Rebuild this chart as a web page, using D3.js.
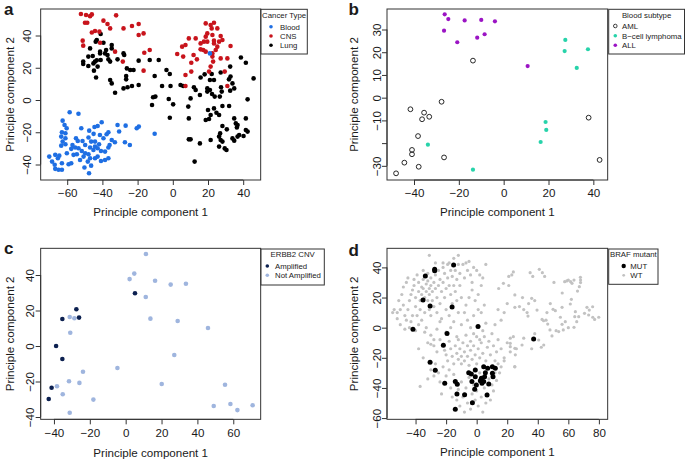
<!DOCTYPE html>
<html><head><meta charset="utf-8">
<script src="https://cdn.jsdelivr.net/npm/d3@7"></script>
<style>body{margin:0;background:#fff}svg{display:block}text{font-family:"Liberation Sans",Arial,Helvetica,sans-serif;fill:#1a1a1a}</style>
</head><body><svg id="c" width="685" height="460"></svg>
<script>
// ---------- Panel a: Cancer type ----------
const bloodA = [[-58.6,-7.6],[-53.6,-8.5],[-62.6,-12.8],[-61.5,-15.5],[-60.3,-17.5],[-52,-17.5],[-44.5,-16.7],[-42.7,-16.1],[-40.4,-13.8],[-31.4,-15.5],[-26.8,-15.9],[-20.5,-17.5],[-19.3,-16.5],[-63,-20],[-61,-20.6],[-63.4,-22.7],[-55,-23.7],[-54,-25.4],[-51.3,-25.4],[-47.9,-23.3],[-46.4,-25.8],[-44.2,-28.9],[-41.9,-27.4],[-39.4,-23.7],[-37.6,-21.2],[-36.6,-20],[-34.7,-24.8],[-32.9,-26.2],[-27.2,-26.2],[-24.4,-27.9],[-62.6,-25.8],[-61,-27.4],[-63.4,-28.3],[-57,-27.9],[-57.7,-30.3],[-55.5,-29.5],[-49.8,-27.9],[-47,-29.5],[-45.1,-31],[-42.7,-29.9],[-40.8,-31.6],[-38.5,-32],[-36.6,-29.5],[-51.7,-31.6],[-49.8,-33],[-47.9,-33.6],[-60.2,-33],[-56.4,-34],[-54.5,-33.6],[-70.2,-35.1],[-66.8,-34],[-65.3,-36.1],[-64.5,-34.5],[-68.6,-38.2],[-67.1,-40.2],[-63,-39.2],[-59.2,-39.8],[-57.7,-39.2],[-52.7,-37.2],[-50.7,-35.1],[-47,-36.1],[-44.2,-36.1],[-42.7,-35.1],[-40.8,-37.8],[-38.5,-37.2],[-36.6,-36.1],[-48.3,-38.2],[-46.4,-40.7],[-50.2,-41.9],[-47.6,-45.4],[-66.8,-42.7],[-64.9,-43.3],[-63,-43.3],[-61,-23.7],[-53.6,-29.9],[-44.2,-25.8],[-41.4,-21.7],[-35.9,-27.9],[-10.3,-20.9],[-30.5,-19.5],[-47.5,-19],[-45,-21],[21.1,28.9]];
const cnsA = [[-52.2,53.3],[-49.3,52.7],[-47,52],[-46,53.1],[-49.9,47.9],[-48.6,47.9],[-32.2,52.5],[-39.4,49.2],[-37.1,47.1],[-35.6,44.4],[-46,41.9],[-44.2,42.8],[-41.7,42.4],[-41.3,35.5],[-28,44.4],[-23.2,45.9],[-19.4,47.1],[-19.4,40.3],[-16.6,41.3],[-51.2,36.8],[-50.9,33.7],[-32.8,30],[-28.4,23.8],[-13.1,31],[-16.2,29.3],[-16.6,18.2],[18.7,47.5],[21.5,46.5],[23.4,47.9],[22.1,44.4],[25.3,44.4],[19.6,41.3],[22.5,40.3],[18.7,39.3],[9.1,38.2],[13,38.2],[5.3,33.1],[7.2,34.1],[15.8,35.1],[17.7,36.2],[19.6,36.2],[23.4,36.8],[26.3,36.2],[28.2,37.2],[27.2,39.7],[25.3,33.1],[32.8,33.5],[15.8,31.4],[17.3,31],[18.7,30],[11.8,27.9],[13.7,25.2],[10.5,23.1],[2.5,28.5],[5.9,26.9],[22.5,26.9],[22.9,23.8],[21.5,20.7],[20.6,17.6],[7.2,15.5],[10.5,17.6],[27.2,25.8],[31,25.8],[29.5,17.6],[7.2,8.7],[31,8.7],[23.4,35.1],[24.4,31],[22.5,28.9]];
const lungA = [[-41,40.9],[-43.2,37.2],[-43.8,36.2],[-39.4,35.5],[-34.7,34.1],[-34.7,32],[-37.9,31],[-41.3,30],[-47,32],[-50.9,23.8],[-50.9,22.3],[-48,21.1],[-48,26.9],[-45.5,27.3],[-44.2,23.8],[-43.2,24.6],[-41,24.8],[-41.3,28.9],[-38.5,28.9],[-37.1,27.9],[-36.6,25.2],[-35.6,23.8],[-31.4,25.2],[-28,28.9],[-27.6,27.9],[-26.1,19.6],[-24.2,18.6],[-22.3,18.6],[-26.5,14.9],[-26.5,12.8],[-28,7.2],[-25.7,7.9],[-23.2,8.7],[-19.4,9.3],[-32.8,4.5],[-35.6,12.4],[-34.7,10.3],[-43.6,14],[-44.8,18.2],[-42.7,20.7],[-45.1,22.7],[-19.4,24.4],[-13.1,24.8],[-8,24.8],[-10.3,14.9],[-3.6,18.6],[-1.7,16.1],[-6.1,8.7],[-1.3,8.7],[4.4,9.3],[5.9,8.7],[-11.2,1.7],[-9.9,2.1],[-11.8,-3.1],[-2.3,0.6],[0.2,-2.7],[-1.7,-11],[8.8,-4.1],[10.1,1],[9.1,-11.4],[12,7.9],[13,6.2],[15.4,3.1],[15.8,14],[18.1,15.9],[21.1,12.4],[23.4,12.4],[19.6,7.2],[21.1,6.2],[19.6,5.2],[22.3,3.7],[23.8,2.1],[26.7,2.1],[27.4,7.9],[27.8,5.2],[31.9,12.8],[32.8,14.5],[33.9,10.3],[32.6,5.8],[34.9,7.2],[32.6,20.7],[38.7,26.4],[41.5,23.1],[45.9,13.4],[42.5,0.4],[27.2,17.1],[22.1,16.1],[28.2,-3.7],[32,-3.7],[21.5,-9.3],[24.8,-7.9],[20.6,-11.8],[18.7,-12.4],[26.3,-9.3],[28.2,-16.1],[30.7,-18.2],[34.9,-11.4],[35.8,-14.5],[36.4,-17.1],[36.8,-15.5],[41.5,-11.4],[41.5,-18.6],[42.5,-19.6],[40.2,-22.3],[37.7,-21.7],[36.8,-22.7],[33.9,-23.8],[34.9,-25.2],[26.9,-20.7],[26.3,-22.7],[27.2,-24.8],[28.2,-25.8],[29.5,-30],[30.5,-31],[26.3,-28.9],[21.5,-24.8],[15.4,-26.9],[10.1,-24.4],[9.1,-24.4],[12.4,-38.2],[20,-6.2],[23.4,-5.2]];
const ticksAx = [-60,-40,-20,0,20,40];
const ticksAy = [-40,-20,0,20,40];

// ---------- Panel b: Blood subtype ----------
const amlB = [[-13.7,16.3],[-27.7,-1.8],[-41.6,-5.1],[-35.5,-6.6],[-36.4,-9.5],[-33.2,-8.4],[-38.2,-16.9],[-40.9,-23],[-40.9,-24.9],[-44.3,-28.6],[-37.9,-30.4],[-48,-33.3],[-26.6,-26.3],[37.9,-8.8],[42.8,-27.4]];
const bcellB = [[27.5,25.4],[27.2,20.5],[37.6,21.3],[32.6,13.1],[18.7,-10.7],[19,-14.2],[16.5,-19.5],[-33.8,-20.7],[-13.7,-31.7]];
const allB = [[-26.3,36.7],[-24.7,34.6],[-17.4,34],[-10,34.2],[-3.9,33.6],[-26.6,29.5],[-8.5,27.9],[-11.8,26.4],[-20.7,24.4],[10.7,13.9]];
const ticksBx = [-40,-20,0,20,40];
const ticksBy = [-30,-20,-10,0,10,20,30];
const labelsBy = [-30,-10,0,10,20,30];

// ---------- Panel c: ERBB2 CNV ----------
const ampC = [[5.2,29.7],[-27.5,20.7],[-26,16],[-35.3,15.2],[-38.8,0],[-35.3,-7.3],[-41.3,-23.5],[-42.9,-29.9]];
const notAmpC = [[11.3,51.8],[2.2,37.7],[4.8,40.8],[16.4,36.8],[25.1,34.6],[33.6,35.1],[11.2,27.6],[13.8,15.4],[29,14.1],[45.9,10.1],[27.1,-5.1],[-4.6,-12.4],[-31.2,16.3],[-28.6,15.6],[-30.9,7.5],[-23.8,-14.5],[-31.6,-19.9],[-25.8,-20.8],[-38.3,-22.7],[-35.1,-27.2],[-18,-30.2],[-31.2,-37.6],[20.1,-21.4],[55.4,-21.8],[49.1,-33.8],[58.4,-32.7],[62.3,-36.1],[70.8,-33.4]];
const ticksCx = [-40,-20,0,20,40,60];
const ticksCy = [-40,-20,0,20,40];

// ---------- Panel d: BRAF mutant ----------
const mutD = [[-15.1,41.6],[-27.5,38.7],[-27.5,37.8],[-33.6,34.3],[-35.1,18.4],[-30.5,14.4],[-16.1,13.7],[0.9,0.7],[-41.7,-1.1],[-19.4,-3.8],[-21.8,-11.7],[37.3,-7.5],[-30.5,-23],[-27.1,-28.3],[-20.9,-36.9],[-14,-35.8],[-12.7,-37.6],[-12.9,-44],[-7.9,-44.5],[-14,-54.2],[-2.8,-49.8],[-5.2,-29.9],[-3.5,-30.8],[-0.9,-28.1],[-0.9,-32.5],[-3.1,-35.8],[-1.3,-40.9],[-0.2,-38.1],[3.5,-36.9],[4.6,-35.8],[5.2,-32.5],[4.6,-25.9],[7.2,-27],[5.7,-29.9],[10.3,-25.9],[12.2,-27],[10.3,-30.3],[10.7,-32.5],[7.9,-37.4],[6.8,-44.7],[3.1,-33.6],[2.4,-35.2]];
const wtD = [[-52,10],[-50,12],[-48,15],[-47,8],[-46,5],[-45,12],[-44,18],[-43,22],[-42,25],[-41,28],[-40,20],[-40,14],[-39,8],[-38,30],[-38,24],[-37,18],[-37,12],[-36,27],[-36,22],[-35,32],[-35,26],[-34,20],[-34,10],[-33,29],[-33,24],[-32,36],[-32,31],[-32,18],[-31,26],[-31,22],[-31,12],[-30,33],[-30,28],[-30,8],[-29,24],[-29,18],[-28,30],[-28,14],[-27,35],[-27,26],[-26,20],[-26,10],[-25,38],[-25,28],[-24,32],[-24,16],[-23,24],[-23,6],[-22,40],[-22,30],[-21,36],[-21,20],[-20,26],[-20,12],[-19,42],[-19,33],[-18,28],[-18,8],[-17,38],[-17,22],[-16,34],[-16,16],[-15,28],[-15,4],[-14,38],[-14,24],[-13,32],[-13,18],[-12,42],[-12,10],[-11,28],[-11,36],[-10,20],[-10,2],
[-55,10],[-54,12],[-52,6],[-51,18],[-50,2],[-49,22],[-48,27],[-47,-1],[-46,30],[-45,33],[-44,0],[-43,4],[-42,8],[-41,32],[-40,-2],[-39,35],[-38,2],[-36,5],[-35,38],[-34,-3],[-33,0],[-31,48],[-30,-5],[-28,-8],[-27,43],[-26,-1],[-24,4],[-22,43],[-20,-3],[-18,43],[-17,0],[-15,46],[-13,-6],[-12,48],[-9,42],[-7,43],[-5,44],[-6,38],[-8,33],[-4,35],[-3,30],[-2,40],[0,38],[2,35],[4,33],[6,42],[3,28],[1,22],[-1,18],[-3,25],[-5,20],[-7,15],[-8,10],[-6,5],[-4,0],[-2,-4],[0,-6],[2,-8],[4,-2],[6,3],[3,10],[5,15],[1,12],[-2,8],
[-24,-8],[-22,-12],[-21,-15],[-20,-18],[-19,-22],[-18,-9],[-17,-14],[-16,-19],[-15,-24],[-14,-12],[-13,-17],[-12,-21],[-12,-8],[-11,-14],[-10,-19],[-10,-24],[-9,-10],[-8,-16],[-8,-22],[-7,-5],[-6,-12],[-6,-19],[-5,-25],[-4,-9],[-4,-15],[-3,-21],[-2,-12],[-1,-18],[0,-24],[1,-14],[2,-20],[3,-10],[4,-17],[5,-6],[6,-22],[7,-13],[8,-9],[9,-18],[10,-4],[11,-12],[12,-22],[13,-16],[14,-8],[16,-14],[18,-20],[20,-10],[22,-16],[24,-6],[25,-26],[26,-14],
[-37,-39],[-32,-34],[-30,-28],[-28,-32],[-27,-24],[-25,-30],[-24,-36],[-22,-26],[-20,-32],[-18,-28],[-17,-40],[-16,-46],[-15,-31],[-13,-48],[-12,-41],[-11,-52],[-10,-36],[-9,-46],[-8,-56],[-7,-40],[-6,-50],[-5,-33],[-4,-54],[-3,-44],[-2,-38],[-1,-48],[0,-42],[1,-52],[2,-30],[3,-46],[4,-56],[5,-40],[6,-50],[7,-44],[8,-34],[9,-48],[10,-38],[11,-42],[12,-30],[13,-35],[14,-24],[15,-30],[16,-26],[18,-22],[-23,-44],[-26,-16],[-28,-12],[-30,-11],[-32,-10],[-35,-20],[-38,-14],
[21,34],[24,37],[23,35],[35,36.5],[36.7,34],[41,38.7],[43,36.5],[44.5,34],[50.6,30],[57.6,30.5],[59,31],[60,31.6],[61.5,30.5],[62.4,29.4],[63.7,31.6],[67.9,33.4],[68,31.6],[68,29.9],[67.2,27.2],[66,24.3],[56,23],[21,28],[17.5,29.4],[14.4,26],[25,21.7],[25,13.5],[30.8,12],[33,10],[33.6,7.7],[36,19.5],[38,18],[39.5,11.7],[42.8,5.5],[43.8,4.6],[45.4,5],[46.5,2.4],[48,-1.5],[49.3,-5.5],[54.8,6.9],[55.9,2.2],[56.7,-1.5],[53.7,-2.6],[43.9,-11.5],[40.6,-8.2],[42.3,-13],[30.8,-7],[29.7,-11.5],[25,-13.7],[25.3,-18],[24.9,-25.9],[22,-7],[22,-10.4],[22,-12.6],[64.6,10.6],[64.2,7.3],[65.5,4],[63.7,0.2],[66.8,7.3],[72.2,13.5],[73.7,11.7],[75.9,13.9],[73.3,8.4],[76,6.9],[77.2,5.5],[79.9,6.9],[70.6,9.5],[61.3,15.7],[62,18.8],[55.9,13.5],[48.2,16],[50,12.2],[51.5,11.3],[12,2],[16,5],[14,12],[18,10],[20,16],[28,14],[30,20],[34,16],[36,-14],[38,-4],[46,10],[52,-2],[58,4],[60,0]];
const ticksDx = [-40,-20,0,20,40,60,80];
const ticksDy = [-60,-40,-20,0,20,40];

// ---------- drawing ----------
const svg = d3.select("#c");
svg.append("rect").attr("width",685).attr("height",460).attr("fill","#fff");
const FS = 11.6;

function panel(o){
  const g = svg.append("g");
  const x = d3.scaleLinear().domain(o.xd).range([o.left,o.right]);
  const y = d3.scaleLinear().domain(o.yd).range([o.bottom,o.top]);
  o.series.forEach(s=>{
    g.append("g").selectAll("circle").data(s.data).join("circle")
      .attr("cx",d=>x(d[0])).attr("cy",d=>y(d[1])).attr("r",s.r)
      .attr("fill",s.open?"none":s.color)
      .attr("stroke",s.open?s.color:"none").attr("stroke-width",s.open?0.9:0);
  });
  g.append("rect").attr("x",o.left).attr("y",o.top)
    .attr("width",o.right-o.left).attr("height",o.bottom-o.top)
    .attr("fill","none").attr("stroke","#333").attr("stroke-width",1);
  const xa = g.append("g").attr("transform",`translate(0,${o.bottom})`)
    .call(d3.axisBottom(x).tickValues(o.xt).tickSize(5).tickPadding(4));
  xa.select(".domain").attr("d",`M${x(o.xt[0])},0H${x(o.xt[o.xt.length-1])}`);
  xa.selectAll("text").attr("font-size",FS).attr("font-family",null);
  xa.selectAll("line,path").attr("stroke","#333");
  const ylabs = o.ylabs || o.yt;
  const ya = g.append("g").attr("transform",`translate(${o.left},0)`)
    .call(d3.axisLeft(y).tickValues(o.yt).tickSize(5)
      .tickFormat(d=>ylabs.includes(d)?d3.format("")(d):""));
  ya.select(".domain").attr("d",`M0,${y(o.yt[0])}V${y(o.yt[o.yt.length-1])}`);
  ya.selectAll("line,path").attr("stroke","#333");
  ya.selectAll(".tick text").attr("font-size",FS).attr("font-family",null)
    .attr("x",0).attr("dy",null).attr("y",-(o.ylOff-4.1))
    .attr("text-anchor","middle").attr("transform","rotate(-90)");
  svg.append("text").attr("x",(o.left+o.right)/2).attr("y",o.xTitleY+4)
    .attr("text-anchor","middle").attr("font-size",FS).text("Principle component 1");
  svg.append("text").attr("transform",`translate(${o.yTitleX+4},${(o.top+o.bottom)/2}) rotate(-90)`)
    .attr("text-anchor","middle").attr("font-size",FS).text("Principle component 2");
  svg.append("text").attr("x",o.letter[0]).attr("y",o.letter[1])
    .attr("font-size",17).attr("font-weight","bold").text(o.letter[2]);
  const L = o.legend;
  svg.append("rect").attr("x",L.x0).attr("y",L.y0).attr("width",L.x1-L.x0).attr("height",L.y1-L.y0)
    .attr("fill","#fff").attr("stroke","#333").attr("stroke-width",1);
  svg.append("text").attr("x",(L.x0+L.x1)/2).attr("y",L.titleY+2.8).attr("text-anchor","middle")
    .attr("font-size",7.8).text(L.title);
  L.items.forEach(it=>{
    svg.append("circle").attr("cx",L.symX).attr("cy",it.y).attr("r",it.r||1.8)
      .attr("fill",it.open?"none":it.color).attr("stroke",it.open?it.color:"none").attr("stroke-width",0.8);
    svg.append("text").attr("x",L.textX).attr("y",it.y+2.8).attr("font-size",7.8).text(it.label);
  });
}

panel({left:40.67,right:260.67,top:9,bottom:180,
  xd:[(40.67-172.8)/1.76,(260.67-172.8)/1.76], yd:[(100-180)/1.6125,(100-9)/1.6125],
  xt:ticksAx, yt:ticksAy, ylOff:14, xTitleY:212, yTitleX:10, letter:[4,15,"a"],
  series:[{data:lungA,color:"#000",r:2.3},{data:cnsA,color:"#c8141c",r:2.3},{data:bloodA,color:"#1f6fe3",r:2.3}],
  legend:{x0:261,x1:307.3,y0:9.3,y1:54,title:"Cancer Type",titleY:15,symX:271,textX:280,
    items:[{label:"Blood",y:26.7,color:"#1f6fe3"},{label:"CNS",y:36,color:"#c8141c"},{label:"Lung",y:45.3,color:"#000"}]}});

panel({left:387,right:607.67,top:9,bottom:180,
  xd:[(387-503.67)/2.2417,(607.67-503.67)/2.2417], yd:[(97.67-180)/2.2723,(97.67-9)/2.2723],
  xt:ticksBx, yt:ticksBy, ylabs:labelsBy, ylOff:10, xTitleY:212, yTitleX:354, letter:[348.5,15,"b"],
  series:[{data:amlB,color:"#111",r:2.4,open:true},{data:bcellB,color:"#27d3aa",r:2.1},{data:allB,color:"#9b14c4",r:2.1}],
  legend:{x0:608.7,x1:684.5,y0:9.3,y1:54,title:"Blood subtype",titleY:15,symX:615.3,textX:622,
    items:[{label:"AML",y:26,color:"#111",open:true},{label:"B\u2212cell lymphoma",y:35.7,color:"#27d3aa"},{label:"ALL",y:45.3,color:"#9b14c4"}]}});

panel({left:40.67,right:260.67,top:248.33,bottom:419.33,
  xd:[(40.67-125.67)/1.7933,(260.67-125.67)/1.7933], yd:[(346-419.33)/1.775,(346-248.33)/1.775],
  xt:ticksCx, yt:ticksCy, ylOff:10.5, xTitleY:452.7, yTitleX:10, letter:[4,254,"c"],
  series:[{data:notAmpC,color:"#9fb5de",r:2.3},{data:ampC,color:"#0c2050",r:2.3}],
  legend:{x0:261,x1:324.3,y0:249,y1:285,title:"ERBB2 CNV",titleY:254,symX:267.3,textX:275,
    items:[{label:"Amplified",y:266,color:"#0c2050"},{label:"Not Amplified",y:275.3,color:"#9fb5de"}]}});

panel({left:387,right:607.67,top:248.33,bottom:419.33,
  xd:[(387-476.67)/1.5277,(607.67-476.67)/1.5277], yd:[(327.67-419.33)/1.5067,(327.67-248.33)/1.5067],
  xt:ticksDx, yt:ticksDy, ylOff:10, xTitleY:451.7, yTitleX:353.7, letter:[348.5,256,"d"],
  series:[{data:wtD,color:"#c2c2c2",r:1.6},{data:mutD,color:"#000",r:2.5}],
  legend:{x0:608.7,x1:658,y0:249,y1:284.3,title:"BRAF mutant",titleY:254,symX:623.7,textX:630.3,
    items:[{label:"MUT",y:266,color:"#000",r:2.2},{label:"WT",y:275.3,color:"#c2c2c2",r:1.4}]}});
</script></body></html>
